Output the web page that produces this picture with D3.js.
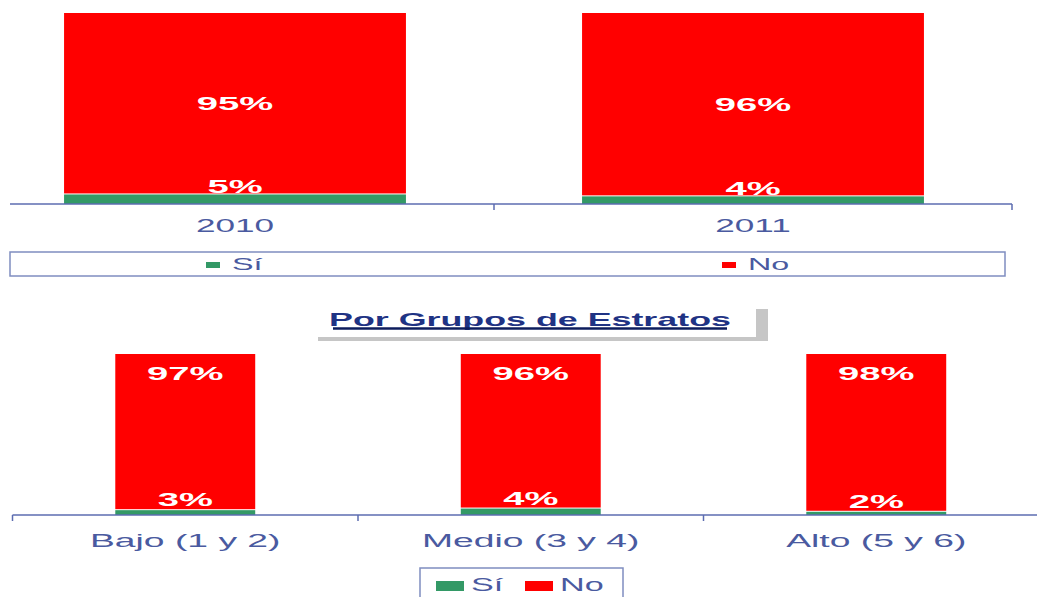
<!DOCTYPE html>
<html lang="es">
<head>
<meta charset="utf-8">
<title>Por Grupos de Estratos</title>
<style>
  body { margin: 0; background: #fff; }
  svg { display: block; font-family: "Liberation Sans", Arial, sans-serif; }
</style>
</head>
<body>
<svg width="1037" height="597"></svg>
<script src="https://cdn.jsdelivr.net/npm/d3@7"></script>
<script>
// data
var years = ['2010', '2011'];
var yearSi = [5, 4];
var yearNo = [95, 96];

var estratos = ['Bajo (1 y 2)', 'Medio (3 y 4)', 'Alto (5 y 6)'];
var estratoSi = [3, 4, 2];
var estratoNo = [97, 96, 98];

var seriesNames = ['Sí', 'No'];
var seriesColors = ['#339966', '#ff0000'];

var titulo = 'Por Grupos de Estratos';

// the source picture is stretched sideways, so text is too
var SX = 1.9;
var textColor = '#4a5aa0';
var axisColor = '#5c6cb0';

var svg = d3.select('svg');

function stretchedText(g, txt, x, y, opts) {
  opts = opts || {};
  return g.append('text')
    .attr('transform', 'translate(' + x + ',' + y + ') scale(' + (opts.sx || SX) + ',1)')
    .attr('text-anchor', opts.anchor || 'middle')
    .attr('font-size', opts.size || 18)
    .attr('font-weight', opts.bold ? 'bold' : null)
    .attr('fill', opts.fill || textColor)
    .text(txt);
}

function drawChart(cfg) {
  var g = svg.append('g');
  var x = d3.scaleBand().domain(cfg.cats).range(cfg.xRange);
  var y = d3.scaleLinear().domain([0, 100]).range(cfg.yRange);
  var bw = x.bandwidth() * cfg.barFrac;

  var rows = cfg.cats.map(function(c, i) {
    return { cat: c, si: cfg.si[i], no: cfg.no[i] };
  });

  var bars = g.selectAll('g.bar').data(rows).enter().append('g').attr('class', 'bar')
    .attr('transform', function(d) { return 'translate(' + (x(d.cat) + (x.bandwidth() - bw) / 2) + ',0)'; });

  bars.append('rect')
    .attr('y', function(d) { return y(d.si); })
    .attr('width', bw)
    .attr('height', function(d) { return y(0) - y(d.si); })
    .attr('fill', seriesColors[0]);

  bars.append('rect')
    .attr('y', function(d) { return y(d.si + d.no); })
    .attr('width', bw)
    .attr('height', function(d) { return y(d.si) - y(d.si + d.no) - 1; })
    .attr('fill', seriesColors[1]);

  // labels
  bars.each(function(d) {
    var b = d3.select(this);
    var noY = cfg.noLabelCenter
      ? (y(d.si) + y(d.si + d.no)) / 2 + 6
      : y(d.si + d.no) + 26;
    stretchedText(b, d.no + '%', bw / 2, noY, { bold: true, fill: '#fff', size: 18, sx: 2.12 });
    stretchedText(b, d.si + '%', bw / 2, y(d.si) - cfg.siLabelGap, { bold: true, fill: '#fff', size: 18, sx: 2.12 });
  });

  // axis
  var axis = g.append('g').attr('transform', 'translate(0,' + y(0) + ')');
  axis.append('line')
    .attr('x1', cfg.axisStart).attr('x2', cfg.axisEnd)
    .attr('stroke', axisColor).attr('stroke-width', 1.5);
  var edges = cfg.cats.map(function(c) { return x(c); }).concat([cfg.xRange[1]]);
  axis.selectAll('line.tick').data(edges).enter().append('line').attr('class', 'tick')
    .attr('x1', function(d) { return d; }).attr('x2', function(d) { return d; })
    .attr('y1', 0).attr('y2', 6)
    .attr('stroke', axisColor).attr('stroke-width', 1.5);
  cfg.cats.forEach(function(c) {
    stretchedText(axis, c, x(c) + x.bandwidth() / 2, cfg.tickDy, { size: 18, sx: cfg.tickSx });
  });

  // legend
  var lg = g.append('g');
  var lb = cfg.legendBox;
  lg.append('rect')
    .attr('x', lb[0]).attr('y', lb[1]).attr('width', lb[2]).attr('height', lb[3])
    .attr('fill', 'none').attr('stroke', '#7f8dc0').attr('stroke-width', 1.5);
  seriesNames.forEach(function(s, i) {
    var lx = cfg.legendX[i];
    lg.append('rect')
      .attr('x', lx).attr('y', cfg.markerY)
      .attr('width', cfg.marker[0]).attr('height', cfg.marker[1])
      .attr('fill', seriesColors[i]);
    stretchedText(lg, s, lx + cfg.marker[0] + cfg.legendGap, cfg.legendBase,
      { anchor: 'start', size: cfg.legendSize });
  });
}

// top chart: by year
drawChart({
  cats: years, si: yearSi, no: yearNo,
  xRange: [-24, 1012], yRange: [204, 13], barFrac: 0.66,
  noLabelCenter: true, siLabelGap: 1,
  axisStart: 10, axisEnd: 1012, tickDy: 28, tickSx: 1.95,
  legendBox: [10, 252, 995, 24], legendX: [206, 722],
  marker: [14, 6], markerY: 262, legendGap: 12, legendBase: 270, legendSize: 17
});

// title
var tg = svg.append('g');
tg.append('rect').attr('x', 318).attr('y', 309).attr('width', 450).attr('height', 32).attr('fill', '#c6c6c6');
tg.append('rect').attr('x', 310).attr('y', 301).attr('width', 446).attr('height', 36).attr('fill', '#fff');
stretchedText(tg, titulo, 530, 326, { bold: true, size: 18, fill: '#1f3384', sx: 1.99 });
tg.append('line').attr('x1', 333).attr('x2', 727).attr('y1', 328.5).attr('y2', 328.5)
  .attr('stroke', '#0c1c5c').attr('stroke-width', 2.5);

// bottom chart: by estrato
drawChart({
  cats: estratos, si: estratoSi, no: estratoNo,
  xRange: [12.5, 1049], yRange: [515, 354], barFrac: 0.405,
  noLabelCenter: false, siLabelGap: 4,
  axisStart: 12.5, axisEnd: 1037, tickDy: 32, tickSx: 2.07,
  legendBox: [420, 568, 203, 34], legendX: [436, 525],
  marker: [28, 10], markerY: 581, legendGap: 7, legendBase: 591, legendSize: 18
});
</script>
</body>
</html>
